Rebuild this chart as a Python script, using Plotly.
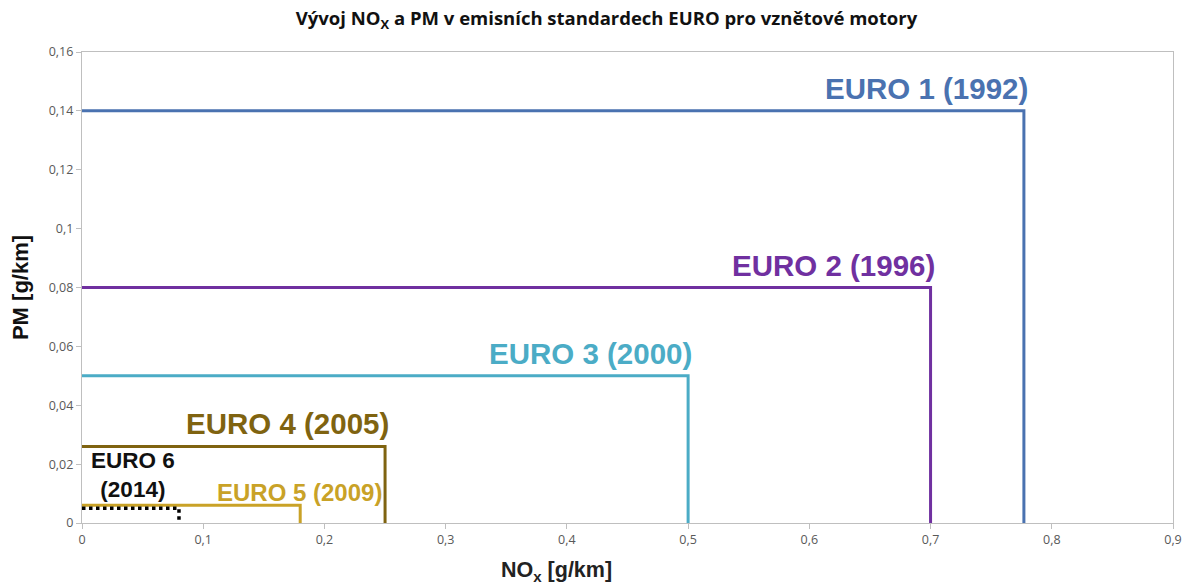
import plotly.graph_objects as go

standards = ["EURO 1 (1992)", "EURO 2 (1996)", "EURO 3 (2000)", "EURO 4 (2005)", "EURO 5 (2009)", "EURO 6 (2014)"]
nox_limits = [0.777, 0.70, 0.50, 0.25, 0.18, 0.08]
pm_limits = [0.14, 0.08, 0.05, 0.026, 0.006, 0.005]
colors = ["#4A72B0", "#7030A0", "#4BACC6", "#7F6310", "#C9A227", "#000000"]
dashes = ["solid", "solid", "solid", "solid", "solid", "dot"]

x_ticks = [0, 0.1, 0.2, 0.3, 0.4, 0.5, 0.6, 0.7, 0.8, 0.9]
x_ticktext = ["0", "0,1", "0,2", "0,3", "0,4", "0,5", "0,6", "0,7", "0,8", "0,9"]
y_ticks = [0, 0.02, 0.04, 0.06, 0.08, 0.1, 0.12, 0.14, 0.16]
y_ticktext = ["0", "0,02", "0,04", "0,06", "0,08", "0,1", "0,12", "0,14", "0,16"]

fig = go.Figure()
for name, nx, pm, c, d in zip(standards, nox_limits, pm_limits, colors, dashes):
    fig.add_trace(go.Scatter(
        x=[0, nx, nx], y=[pm, pm, 0], mode="lines", name=name,
        line=dict(color=c, width=3 if d == "solid" else 3.5, dash=d),
        hoverinfo="name", showlegend=False, cliponaxis=False,
    ))

label_font = "Liberation Sans, Arial, sans-serif"
# label annotations for EURO 1-4 (right aligned above line corner)
for i in range(4):
    fig.add_annotation(
        x=nox_limits[i], y=pm_limits[i], text="<b>%s</b>" % standards[i],
        xanchor="right", yanchor="bottom", showarrow=False, xshift=6, yshift=4,
        font=dict(family=label_font, size=29.5, color=colors[i]),
    )
# EURO 5
fig.add_annotation(
    x=nox_limits[3], y=pm_limits[4], text="<b>%s</b>" % standards[4],
    xanchor="right", yanchor="bottom", showarrow=False, xshift=-1, yshift=-3,
    font=dict(family=label_font, size=24, color=colors[4]),
)
# EURO 6
fig.add_annotation(
    x=nox_limits[5] / 2, y=pm_limits[5], text="<b>EURO 6<br>(2014)</b>",
    xanchor="center", yanchor="bottom", showarrow=False, xshift=3, yshift=4,
    font=dict(family=label_font, size=22.5, color="#111111"),
)
# x axis title (offset left of plot centre, as in the reference)
fig.add_annotation(
    x=0.4345, y=-0.104, xref="paper", yref="paper", xanchor="center", yanchor="middle",
    text="<b>NO<sub>x</sub> [g/km]</b>", showarrow=False,
    font=dict(family=label_font, size=21.5, color="#222222"),
)

axis_common = dict(
    showgrid=False, zeroline=False, showline=True, linecolor="#BFBFBF", linewidth=1.2,
    mirror=True, ticks="outside", tickcolor="#BFBFBF", ticklen=5,
    tickfont=dict(family="Open Sans, sans-serif", size=12.5, color="#595959"),
)

fig.update_layout(
    width=1197, height=585,
    margin=dict(l=74, r=32, t=44, b=70),
    paper_bgcolor="white", plot_bgcolor="white",
    title=dict(
        text="<b>Vývoj NO<sub>X</sub> a PM v emisních standardech EURO pro vznětové motory</b>",
        x=0.5, xanchor="center", y=0.982, yanchor="middle",
        font=dict(family="Open Sans, sans-serif", size=18.5, color="#111111"),
    ),
    xaxis=dict(range=[0, 0.9], tickvals=x_ticks, ticktext=x_ticktext, **axis_common),
    yaxis=dict(range=[0, 0.16], tickvals=y_ticks, ticktext=y_ticktext,
               title=dict(text="<b>PM [g/km]</b>", standoff=14,
                          font=dict(family=label_font, size=22, color="#111111")),
               **axis_common),
)

fig.write_html("out.html")
